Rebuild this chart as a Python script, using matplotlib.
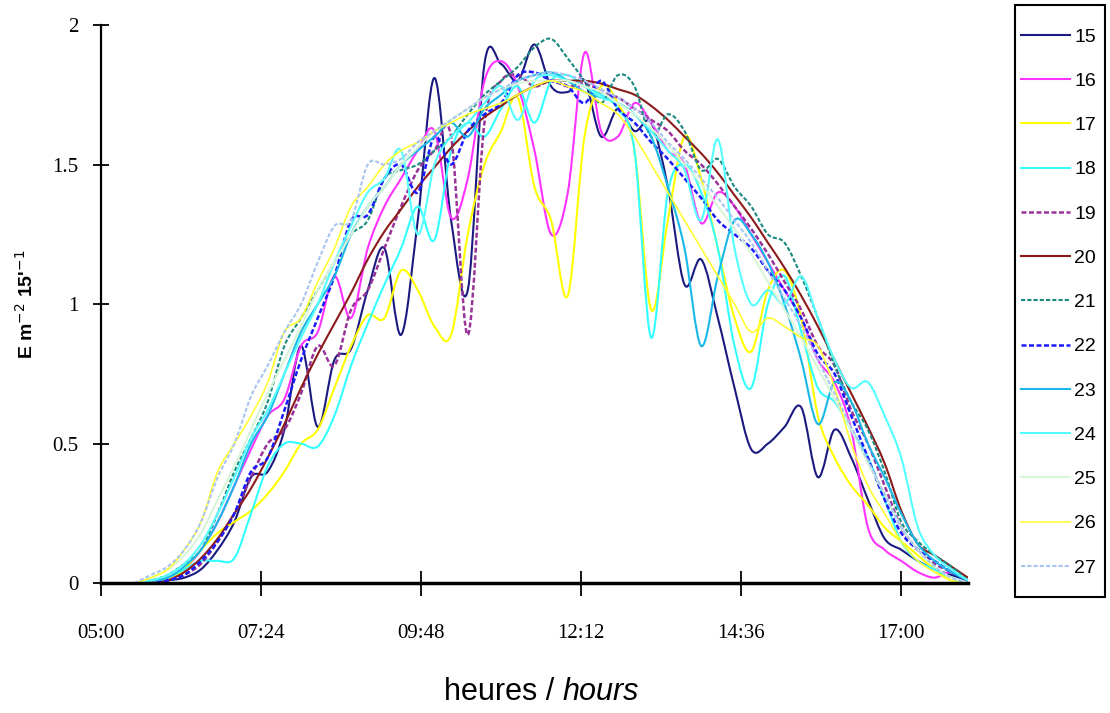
import numpy as np
import matplotlib
matplotlib.use("Agg")
import matplotlib.pyplot as plt
from matplotlib.path import Path
from matplotlib.patches import PathPatch, Rectangle

# time of day in hours, one reading every 15 minutes
hours = [5.5, 5.75, 6.0, 6.25, 6.5, 6.75, 7.0, 7.25, 7.5, 7.75,
         8.0, 8.25, 8.5, 8.75, 9.0, 9.25, 9.5, 9.75, 10.0, 10.25,
         10.5, 10.75, 11.0, 11.25, 11.5, 11.75, 12.0, 12.25, 12.5, 12.75,
         13.0, 13.25, 13.5, 13.75, 14.0, 14.25, 14.5, 14.75, 15.0, 15.25,
         15.5, 15.75, 16.0, 16.25, 16.5, 16.75, 17.0, 17.25, 17.5, 17.75,
         18.0]

day15 = [0, 0, 0.01, 0.02, 0.05, 0.12, 0.22, 0.38, 0.40, 0.55,
         0.85, 0.56, 0.80, 0.84, 1.05, 1.20, 0.89, 1.30, 1.81, 1.30,
         1.05, 1.86, 1.86, 1.80, 1.93, 1.78, 1.76, 1.80, 1.60, 1.70,
         1.62, 1.65, 1.42, 1.07, 1.16, 0.95, 0.70, 0.48, 0.50, 0.56,
         0.63, 0.38, 0.55, 0.45, 0.30, 0.16, 0.12, 0.08, 0.05, 0.03,
         0.01]
day16 = [0, 0, 0.02, 0.05, 0.12, 0.22, 0.35, 0.48, 0.60, 0.66,
         0.85, 0.90, 1.10, 0.95, 1.20, 1.35, 1.45, 1.55, 1.62, 1.31,
         1.45, 1.80, 1.87, 1.78, 1.55, 1.25, 1.40, 1.90, 1.62, 1.60,
         1.72, 1.65, 1.55, 1.50, 1.29, 1.40, 1.35, 1.25, 1.15, 1.05,
         0.95, 0.80, 0.72, 0.55, 0.20, 0.12, 0.08, 0.04, 0.02, 0.04,
         0.01]
day17 = [0, 0, 0.01, 0.05, 0.12, 0.18, 0.22, 0.26, 0.32, 0.40,
         0.50, 0.55, 0.70, 0.85, 0.96, 0.95, 1.12, 1.05, 0.92, 0.89,
         1.25, 1.50, 1.62, 1.74, 1.42, 1.30, 1.03, 1.60, 1.78, 1.72,
         1.55, 0.98, 1.30, 1.60, 1.45, 1.20, 0.95, 0.83, 1.05, 1.12,
         0.95, 0.60, 0.45, 0.35, 0.28, 0.20, 0.15, 0.10, 0.05, 0.01,
         0]
day18 = [0, 0, 0.02, 0.05, 0.08, 0.08, 0.09, 0.25, 0.42, 0.50,
         0.50, 0.49, 0.60, 0.78, 0.93, 1.07, 1.20, 1.35, 1.23, 1.55,
         1.65, 1.60, 1.70, 1.78, 1.65, 1.80, 1.82, 1.78, 1.75, 1.70,
         1.55, 0.88, 1.40, 1.50, 1.40, 1.20, 0.85, 0.70, 1.00, 1.10,
         0.90, 0.70, 0.65, 0.55, 0.45, 0.30, 0.15, 0.08, 0.05, 0.02,
         0]
day19 = [0, 0, 0.01, 0.03, 0.07, 0.15, 0.25, 0.38, 0.50, 0.55,
         0.68, 0.85, 0.78, 0.98, 1.05, 1.20, 1.35, 1.48, 1.55, 1.60,
         0.89, 1.65, 1.80, 1.82, 1.78, 1.80, 1.78, 1.79, 1.76, 1.74,
         1.70, 1.66, 1.62, 1.55, 1.50, 1.43, 1.35, 1.27, 1.18, 1.08,
         0.98, 0.85, 0.78, 0.62, 0.50, 0.35, 0.20, 0.12, 0.07, 0.04,
         0.01]
day20 = [0, 0, 0.01, 0.04, 0.09, 0.16, 0.25, 0.34, 0.45, 0.57,
         0.70, 0.82, 0.93, 1.04, 1.16, 1.26, 1.34, 1.42, 1.49, 1.56,
         1.62, 1.67, 1.71, 1.75, 1.78, 1.80, 1.80, 1.80, 1.79, 1.77,
         1.75, 1.71, 1.66, 1.60, 1.54, 1.47, 1.39, 1.31, 1.22, 1.13,
         1.03, 0.92, 0.80, 0.68, 0.56, 0.43, 0.26, 0.14, 0.10, 0.06,
         0.02]
day21 = [0, 0.01, 0.03, 0.07, 0.12, 0.25, 0.40, 0.52, 0.65, 0.85,
         0.95, 1.05, 1.15, 1.25, 1.30, 1.45, 1.48, 1.50, 1.55, 1.60,
         1.68, 1.75, 1.80, 1.85, 1.92, 1.95, 1.88, 1.80, 1.72, 1.82,
         1.78, 1.60, 1.68, 1.62, 1.48, 1.52, 1.42, 1.35, 1.25, 1.22,
         1.10, 0.95, 0.78, 0.65, 0.55, 0.40, 0.22, 0.15, 0.10, 0.06,
         0.01]
day22 = [0, 0, 0.01, 0.03, 0.08, 0.15, 0.25, 0.40, 0.45, 0.62,
         0.80, 0.95, 1.10, 1.30, 1.32, 1.45, 1.50, 1.40, 1.60, 1.50,
         1.62, 1.68, 1.72, 1.82, 1.83, 1.80, 1.78, 1.72, 1.80, 1.70,
         1.65, 1.58, 1.52, 1.45, 1.38, 1.30, 1.25, 1.20, 1.12, 1.05,
         0.95, 0.82, 0.75, 0.60, 0.45, 0.30, 0.18, 0.12, 0.08, 0.04,
         0.01]
day23 = [0, 0.01, 0.02, 0.06, 0.12, 0.22, 0.35, 0.50, 0.60, 0.75,
         0.90, 1.00, 1.10, 1.25, 1.35, 1.42, 1.50, 1.55, 1.60, 1.65,
         1.60, 1.70, 1.75, 1.80, 1.82, 1.83, 1.80, 1.76, 1.74, 1.72,
         1.68, 1.60, 1.42, 1.20, 0.85, 1.10, 1.30, 1.25, 1.15, 1.00,
         0.80, 0.57, 0.72, 0.65, 0.50, 0.38, 0.25, 0.14, 0.08, 0.04,
         0.01]
day24 = [0, 0.01, 0.03, 0.07, 0.14, 0.25, 0.38, 0.52, 0.62, 0.75,
         0.88, 1.00, 1.15, 1.28, 1.40, 1.45, 1.55, 1.25, 1.50, 1.60,
         1.65, 1.72, 1.78, 1.66, 1.80, 1.82, 1.80, 1.78, 1.74, 1.72,
         1.68, 1.62, 1.55, 1.48, 1.30, 1.59, 1.20, 1.00, 1.05, 1.00,
         1.10, 0.95, 0.80, 0.70, 0.72, 0.60, 0.45, 0.20, 0.10, 0.05,
         0.01]
day25 = [0, 0.02, 0.05, 0.10, 0.18, 0.30, 0.42, 0.55, 0.68, 0.80,
         0.92, 1.05, 1.15, 1.25, 1.35, 1.42, 1.50, 1.56, 1.62, 1.66,
         1.70, 1.74, 1.77, 1.79, 1.80, 1.80, 1.80, 1.78, 1.76, 1.72,
         1.68, 1.63, 1.57, 1.50, 1.43, 1.35, 1.27, 1.18, 1.08, 0.98,
         0.88, 0.77, 0.66, 0.55, 0.43, 0.32, 0.20, 0.12, 0.06, 0.02,
         0]
day26 = [0, 0.02, 0.05, 0.12, 0.22, 0.40, 0.50, 0.60, 0.72, 0.90,
         0.95, 1.08, 1.20, 1.35, 1.42, 1.50, 1.55, 1.58, 1.62, 1.65,
         1.68, 1.70, 1.72, 1.75, 1.78, 1.80, 1.78, 1.76, 1.72, 1.68,
         1.60, 1.50, 1.40, 1.30, 1.20, 1.10, 1.00, 0.90, 0.95, 0.92,
         0.88, 0.85, 0.70, 0.50, 0.35, 0.25, 0.15, 0.08, 0.04, 0.01,
         0]
day27 = [0, 0.03, 0.06, 0.12, 0.22, 0.38, 0.50, 0.67, 0.78, 0.90,
         1.00, 1.15, 1.28, 1.30, 1.50, 1.50, 1.52, 1.58, 1.62, 1.66,
         1.70, 1.74, 1.77, 1.80, 1.82, 1.83, 1.82, 1.80, 1.77, 1.74,
         1.70, 1.65, 1.58, 1.52, 1.45, 1.38, 1.30, 1.22, 1.12, 1.02,
         0.92, 0.80, 0.68, 0.56, 0.44, 0.32, 0.20, 0.12, 0.06, 0.02,
         0]

days = ["15", "16", "17", "18", "19", "20", "21", "22", "23", "24", "25", "26", "27"]
series = [day15, day16, day17, day18, day19, day20, day21, day22, day23, day24, day25, day26, day27]
colors = ["#1a1a80", "#ff33ff", "#ffff00", "#33ffff", "#993399", "#8b1a1a", "#1a8a80",
          "#1a1aff", "#1ab8e8", "#55ffff", "#d8f5d8", "#ffff33", "#a8c4f0"]
styles = ["-", "-", "-", "-", (0, (2, 1)), "-", (0, (2, 1)),
          (0, (2, 1)), "-", "-", "-", "-", (0, (2, 1))]
widths = [1.5, 1.5, 1.5, 1.5, 1.8, 1.5, 1.5, 1.8, 1.5, 1.5, 1.5, 1.2, 1.5]

tick_pos = [5.0, 7.4, 9.8, 12.2, 14.6, 17.0]
tick_lbl = ["05:00", "07:24", "09:48", "12:12", "14:36", "17:00"]


def smooth_path(x, y):
    # spreadsheet-style smoothed line: bezier segments through every point
    x = np.asarray(x, float)
    y = np.asarray(y, float)
    verts = [(x[0], y[0])]
    codes = [Path.MOVETO]
    n = len(x)
    for i in range(n - 1):
        x0, y0 = (x[i - 1], y[i - 1]) if i > 0 else (x[i], y[i])
        x3, y3 = (x[i + 2], y[i + 2]) if i + 2 < n else (x[i + 1], y[i + 1])
        c1 = (x[i] + (x[i + 1] - x0) / 6, y[i] + (y[i + 1] - y0) / 6)
        c2 = (x[i + 1] - (x3 - x[i]) / 6, y[i + 1] - (y3 - y[i]) / 6)
        verts += [c1, c2, (x[i + 1], y[i + 1])]
        codes += [Path.CURVE4] * 3
    return Path(verts, codes)


fig = plt.figure(figsize=(11.1, 7.13), dpi=100)
ax = fig.add_axes([0.091, 0.182, 0.781, 0.783])

handles = []
for vals, name, c, ls, lw in zip(series, days, colors, styles, widths):
    ax.add_patch(PathPatch(smooth_path(hours, vals), fill=False, edgecolor=c,
                           linestyle=ls, linewidth=lw, zorder=2))
    h, = ax.plot([], [], color=c, linestyle=ls, linewidth=lw, label=name)
    handles.append(h)

ax.set_xlim(5.0, 18.0)
ax.set_ylim(0, 2)
ax.set_yticks([0, 0.5, 1, 1.5, 2])
ax.set_yticklabels(["0", "0.5", "1", "1.5", "2"])
ax.set_xticks(tick_pos)
ax.set_xticklabels(tick_lbl)

for s in ["top", "right"]:
    ax.spines[s].set_visible(False)
ax.spines["left"].set_linewidth(1.6)
ax.spines["bottom"].set_linewidth(2.5)
ax.tick_params(axis="x", direction="inout", length=18, width=1.3, pad=20)
ax.tick_params(axis="y", direction="inout", length=12, width=1.3, pad=10)
for lab in ax.get_xticklabels() + ax.get_yticklabels():
    lab.set_fontfamily("Liberation Serif")
    lab.set_fontsize(15)

fig.text(0.507, 0.018, "heures / ", ha="right", fontsize=22, family="Liberation Sans")
fig.text(0.507, 0.018, "hours", ha="left", fontsize=22, style="italic", family="Liberation Sans")
fig.text(0.023, 0.573, "E m$^{-2}$ 15'$^{-1}$", rotation=90, ha="center", va="center",
         fontsize=14, fontweight="bold", family="Liberation Sans")

# legend box drawn separately so its padding can match the original
fig.patches.append(Rectangle((1015 / 1110, 1 - 597 / 713), 90 / 1110, 592 / 713,
                             transform=fig.transFigure, fill=False,
                             edgecolor="black", linewidth=1.5))
fig.legend(handles=handles, loc="upper left",
           bbox_to_anchor=(1021 / 1110, 1 - 28 / 713),
           prop={"family": "Liberation Sans", "size": 14},
           handlelength=2.5, labelspacing=1.37, handletextpad=0.25,
           borderpad=0, frameon=False, borderaxespad=0)

fig.savefig("out.png", dpi=100)
